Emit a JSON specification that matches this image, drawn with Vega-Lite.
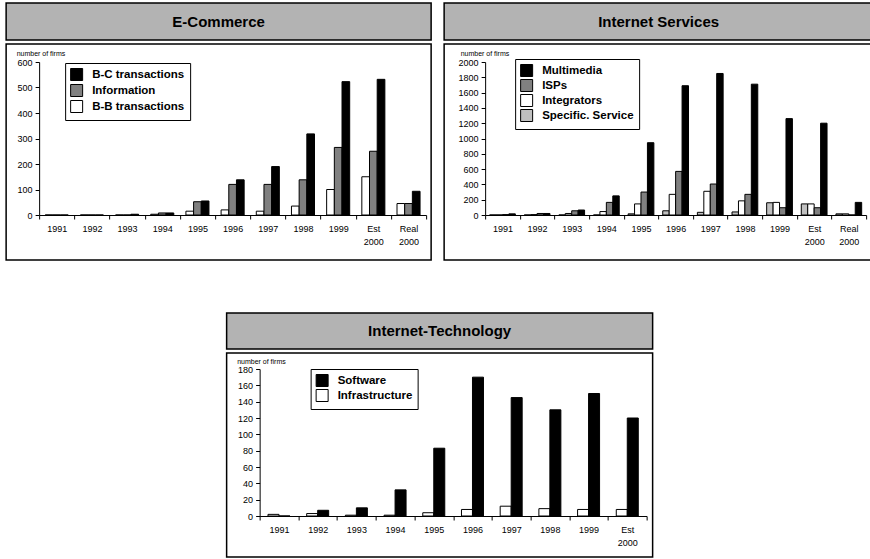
{
  "$schema": "https://vega.github.io/schema/vega-lite/v6.json",
  "padding": {"left": 5, "top": 2, "right": 0, "bottom": 0},
  "config": {
    "font": "Liberation Sans",
    "view": {"stroke": "black", "strokeWidth": 1},
    "axis": {
      "domainColor": "black", "tickColor": "black", "labelColor": "black", "titleColor": "black",
      "tickSize": 4, "labelFontSize": 9, "grid": false, "labelFont": "Liberation Sans"
    }
  },
  "datasets": {
    "ecom": [
      {"year": "1991", "series": "B-B transactions", "value": 0},
      {"year": "1991", "series": "Information", "value": 0},
      {"year": "1991", "series": "B-C transactions", "value": 0},
      {"year": "1992", "series": "B-B transactions", "value": 0},
      {"year": "1992", "series": "Information", "value": 0},
      {"year": "1992", "series": "B-C transactions", "value": 0},
      {"year": "1993", "series": "B-B transactions", "value": 0},
      {"year": "1993", "series": "Information", "value": 0},
      {"year": "1993", "series": "B-C transactions", "value": 3},
      {"year": "1994", "series": "B-B transactions", "value": 3},
      {"year": "1994", "series": "Information", "value": 8},
      {"year": "1994", "series": "B-C transactions", "value": 8},
      {"year": "1995", "series": "B-B transactions", "value": 15},
      {"year": "1995", "series": "Information", "value": 52},
      {"year": "1995", "series": "B-C transactions", "value": 55},
      {"year": "1996", "series": "B-B transactions", "value": 20},
      {"year": "1996", "series": "Information", "value": 120},
      {"year": "1996", "series": "B-C transactions", "value": 138},
      {"year": "1997", "series": "B-B transactions", "value": 15},
      {"year": "1997", "series": "Information", "value": 120},
      {"year": "1997", "series": "B-C transactions", "value": 190},
      {"year": "1998", "series": "B-B transactions", "value": 35},
      {"year": "1998", "series": "Information", "value": 138},
      {"year": "1998", "series": "B-C transactions", "value": 318},
      {"year": "1999", "series": "B-B transactions", "value": 100},
      {"year": "1999", "series": "Information", "value": 265},
      {"year": "1999", "series": "B-C transactions", "value": 523},
      {"year": "Est 2000", "series": "B-B transactions", "value": 150},
      {"year": "Est 2000", "series": "Information", "value": 250},
      {"year": "Est 2000", "series": "B-C transactions", "value": 532},
      {"year": "Real 2000", "series": "B-B transactions", "value": 45},
      {"year": "Real 2000", "series": "Information", "value": 45},
      {"year": "Real 2000", "series": "B-C transactions", "value": 93}
    ],
    "isvc": [
      {"year": "1991", "series": "Specific. Service", "value": 0},
      {"year": "1991", "series": "Integrators", "value": 0},
      {"year": "1991", "series": "ISPs", "value": 5},
      {"year": "1991", "series": "Multimedia", "value": 15},
      {"year": "1992", "series": "Specific. Service", "value": 0},
      {"year": "1992", "series": "Integrators", "value": 5},
      {"year": "1992", "series": "ISPs", "value": 20},
      {"year": "1992", "series": "Multimedia", "value": 20},
      {"year": "1993", "series": "Specific. Service", "value": 0},
      {"year": "1993", "series": "Integrators", "value": 20},
      {"year": "1993", "series": "ISPs", "value": 55},
      {"year": "1993", "series": "Multimedia", "value": 65},
      {"year": "1994", "series": "Specific. Service", "value": 0},
      {"year": "1994", "series": "Integrators", "value": 45},
      {"year": "1994", "series": "ISPs", "value": 165},
      {"year": "1994", "series": "Multimedia", "value": 250},
      {"year": "1995", "series": "Specific. Service", "value": 15},
      {"year": "1995", "series": "Integrators", "value": 145},
      {"year": "1995", "series": "ISPs", "value": 300},
      {"year": "1995", "series": "Multimedia", "value": 945},
      {"year": "1996", "series": "Specific. Service", "value": 55},
      {"year": "1996", "series": "Integrators", "value": 270},
      {"year": "1996", "series": "ISPs", "value": 570},
      {"year": "1996", "series": "Multimedia", "value": 1690},
      {"year": "1997", "series": "Specific. Service", "value": 35},
      {"year": "1997", "series": "Integrators", "value": 310},
      {"year": "1997", "series": "ISPs", "value": 405},
      {"year": "1997", "series": "Multimedia", "value": 1850},
      {"year": "1998", "series": "Specific. Service", "value": 40},
      {"year": "1998", "series": "Integrators", "value": 185},
      {"year": "1998", "series": "ISPs", "value": 270},
      {"year": "1998", "series": "Multimedia", "value": 1710},
      {"year": "1999", "series": "Specific. Service", "value": 160},
      {"year": "1999", "series": "Integrators", "value": 165},
      {"year": "1999", "series": "ISPs", "value": 95},
      {"year": "1999", "series": "Multimedia", "value": 1260},
      {"year": "Est 2000", "series": "Specific. Service", "value": 145},
      {"year": "Est 2000", "series": "Integrators", "value": 145},
      {"year": "Est 2000", "series": "ISPs", "value": 95},
      {"year": "Est 2000", "series": "Multimedia", "value": 1200},
      {"year": "Real 2000", "series": "Specific. Service", "value": 15},
      {"year": "Real 2000", "series": "Integrators", "value": 15},
      {"year": "Real 2000", "series": "ISPs", "value": 0},
      {"year": "Real 2000", "series": "Multimedia", "value": 165}
    ],
    "itech": [
      {"year": "1991", "series": "Infrastructure", "value": 2},
      {"year": "1991", "series": "Software", "value": 0},
      {"year": "1992", "series": "Infrastructure", "value": 3},
      {"year": "1992", "series": "Software", "value": 7},
      {"year": "1993", "series": "Infrastructure", "value": 1},
      {"year": "1993", "series": "Software", "value": 10},
      {"year": "1994", "series": "Infrastructure", "value": 1},
      {"year": "1994", "series": "Software", "value": 32},
      {"year": "1995", "series": "Infrastructure", "value": 4},
      {"year": "1995", "series": "Software", "value": 83},
      {"year": "1996", "series": "Infrastructure", "value": 8},
      {"year": "1996", "series": "Software", "value": 170},
      {"year": "1997", "series": "Infrastructure", "value": 12},
      {"year": "1997", "series": "Software", "value": 145},
      {"year": "1998", "series": "Infrastructure", "value": 9},
      {"year": "1998", "series": "Software", "value": 130},
      {"year": "1999", "series": "Infrastructure", "value": 8},
      {"year": "1999", "series": "Software", "value": 150},
      {"year": "Est 2000", "series": "Infrastructure", "value": 8},
      {"year": "Est 2000", "series": "Software", "value": 120}
    ]
  },
  "spacing": 51,
  "center": true,
  "resolve": {"scale": {"color": "independent", "xOffset": "independent", "x": "independent", "y": "independent"}, "legend": {"color": "independent"}},
  "vconcat": [
    {
      "spacing": 11,
      "resolve": {"scale": {"color": "independent", "xOffset": "independent", "x": "independent", "y": "independent"}, "legend": {"color": "independent"}},
      "hconcat": [
        {
          "spacing": 2,
          "resolve": {"scale": {"color": "independent", "xOffset": "independent", "x": "independent", "y": "independent"}, "legend": {"color": "independent"}},
          "vconcat": [
            {
              "width": 425, "height": 37,
              "data": {"values": [{"t": "E-Commerce"}]},
              "view": {"fill": "#b3b3b3", "stroke": "black", "strokeWidth": 1.5},
              "mark": {"type": "text", "fontWeight": "bold", "fontSize": 15, "font": "Liberation Sans", "color": "black"},
              "encoding": {"text": {"field": "t"}}
            },
            {
              "width": 425, "height": 216,
              "data": {"name": "ecom"},
              "view": {"stroke": "black", "strokeWidth": 1.5},
              "mark": {"type": "bar", "stroke": "black", "strokeWidth": 1},
              "encoding": {
                "x": {"field": "year", "type": "nominal", "sort": null,
                  "scale": {"range": [33, 420], "paddingInner": 0, "paddingOuter": 0},
                  "axis": {"title": null, "offset": -45, "tickBand": "extent", "labelAngle": 0, "labelPadding": 5, "labelLineHeight": 13, "labelExpr": "split(datum.label, ' ')"}},
                "xOffset": {"field": "series", "sort": ["B-B transactions", "Information", "B-C transactions"],
                  "scale": {"paddingInner": 0, "paddingOuter": 0.79}},
                "y": {"field": "value", "type": "quantitative",
                  "scale": {"domain": [0, 600], "range": [171, 18], "nice": false},
                  "axis": {"offset": -33, "values": [0, 100, 200, 300, 400, 500, 600], "format": "d", "labelPadding": 3,
                    "title": "number of firms", "titleAngle": 0, "titleAlign": "left", "titleBaseline": "alphabetic",
                    "titleX": -23, "titleY": 11, "titleFontSize": 7, "titleFontWeight": "normal"}},
                "color": {"field": "series", "type": "nominal",
                  "scale": {"domain": ["B-C transactions", "Information", "B-B transactions"], "range": ["black", "#808080", "white"]},
                  "legend": {"title": "\u00a0\u00a0\u00a0\u00a0\u00a0\u00a0\u00a0\u00a0\u00a0\u00a0\u00a0\u00a0\u00a0\u00a0\u00a0\u00a0", "titleOrient": "right", "titlePadding": 0, "titleFontSize": 11,
                    "orient": "none", "legendX": 59, "legendY": 19,
                    "fillColor": "white", "strokeColor": "black", "padding": 5,
                    "symbolType": "square", "symbolSize": 144, "symbolStrokeColor": "black", "symbolStrokeWidth": 1,
                    "labelFontSize": 11.5, "labelFontWeight": "bold", "labelColor": "black", "labelOffset": 9, "rowPadding": -1}}
              }
            }
          ]
        },
        {
          "spacing": 2,
          "resolve": {"scale": {"color": "independent", "xOffset": "independent", "x": "independent", "y": "independent"}, "legend": {"color": "independent"}},
          "vconcat": [
            {
              "width": 429, "height": 37,
              "data": {"values": [{"t": "Internet Services"}]},
              "view": {"fill": "#b3b3b3", "stroke": "black", "strokeWidth": 1.5},
              "mark": {"type": "text", "fontWeight": "bold", "fontSize": 15, "font": "Liberation Sans", "color": "black"},
              "encoding": {"text": {"field": "t"}}
            },
            {
              "width": 429, "height": 216,
              "data": {"name": "isvc"},
              "view": {"stroke": "black", "strokeWidth": 1.5},
              "mark": {"type": "bar", "stroke": "black", "strokeWidth": 1},
              "encoding": {
                "x": {"field": "year", "type": "nominal", "sort": null,
                  "scale": {"range": [41, 422], "paddingInner": 0, "paddingOuter": 0},
                  "axis": {"title": null, "offset": -45, "tickBand": "extent", "labelAngle": 0, "labelPadding": 5, "labelLineHeight": 13, "labelExpr": "split(datum.label, ' ')"}},
                "xOffset": {"field": "series", "sort": ["Specific. Service", "Integrators", "ISPs", "Multimedia"],
                  "scale": {"paddingInner": 0, "paddingOuter": 0.69}},
                "y": {"field": "value", "type": "quantitative",
                  "scale": {"domain": [0, 2000], "range": [171, 18], "nice": false},
                  "axis": {"offset": -41, "values": [0, 200, 400, 600, 800, 1000, 1200, 1400, 1600, 1800, 2000], "format": "d", "labelPadding": 3,
                    "title": "number of firms", "titleAngle": 0, "titleAlign": "left", "titleBaseline": "alphabetic",
                    "titleX": -25, "titleY": 11, "titleFontSize": 7, "titleFontWeight": "normal"}},
                "color": {"field": "series", "type": "nominal",
                  "scale": {"domain": ["Multimedia", "ISPs", "Integrators", "Specific. Service"], "range": ["black", "#808080", "white", "#c0c0c0"]},
                  "legend": {"title": null, "orient": "none", "legendX": 71, "legendY": 15,
                    "fillColor": "white", "strokeColor": "black", "padding": 5,
                    "symbolType": "square", "symbolSize": 144, "symbolStrokeColor": "black", "symbolStrokeWidth": 1,
                    "labelFontSize": 11.5, "labelFontWeight": "bold", "labelColor": "black", "labelOffset": 9, "rowPadding": -2}}
              }
            }
          ]
        }
      ]
    },
    {
      "spacing": 2,
      "resolve": {"scale": {"color": "independent", "xOffset": "independent", "x": "independent", "y": "independent"}, "legend": {"color": "independent"}},
      "vconcat": [
        {
          "width": 426, "height": 36,
          "data": {"values": [{"t": "Internet-Technology"}]},
          "view": {"fill": "#b3b3b3", "stroke": "black", "strokeWidth": 1.5},
          "mark": {"type": "text", "fontWeight": "bold", "fontSize": 15, "font": "Liberation Sans", "color": "black"},
          "encoding": {"text": {"field": "t"}}
        },
        {
          "width": 426, "height": 204,
          "data": {"name": "itech"},
          "view": {"stroke": "black", "strokeWidth": 1.5},
          "mark": {"type": "bar", "stroke": "black", "strokeWidth": 1},
          "encoding": {
            "x": {"field": "year", "type": "nominal", "sort": null,
              "scale": {"range": [33, 420], "paddingInner": 0, "paddingOuter": 0},
              "axis": {"title": null, "offset": -41, "tickBand": "extent", "labelAngle": 0, "labelPadding": 5, "labelLineHeight": 13, "labelExpr": "split(datum.label, ' ')"}},
            "xOffset": {"field": "series", "sort": ["Infrastructure", "Software"],
              "scale": {"paddingInner": 0, "paddingOuter": 0.76}},
            "y": {"field": "value", "type": "quantitative",
              "scale": {"domain": [0, 180], "range": [163, 16], "nice": false},
              "axis": {"offset": -33, "values": [0, 20, 40, 60, 80, 100, 120, 140, 160, 180], "format": "d", "labelPadding": 3,
                "title": "number of firms", "titleAngle": 0, "titleAlign": "left", "titleBaseline": "alphabetic",
                "titleX": -23, "titleY": 10, "titleFontSize": 7, "titleFontWeight": "normal"}},
            "color": {"field": "series", "type": "nominal",
              "scale": {"domain": ["Software", "Infrastructure"], "range": ["black", "white"]},
              "legend": {"title": null, "orient": "none", "legendX": 84, "legendY": 16,
                "fillColor": "white", "strokeColor": "black", "padding": 5,
                "symbolType": "square", "symbolSize": 144, "symbolStrokeColor": "black", "symbolStrokeWidth": 1,
                "labelFontSize": 11.5, "labelFontWeight": "bold", "labelColor": "black", "labelOffset": 9, "rowPadding": -2}}
          }
        }
      ]
    }
  ]
}
